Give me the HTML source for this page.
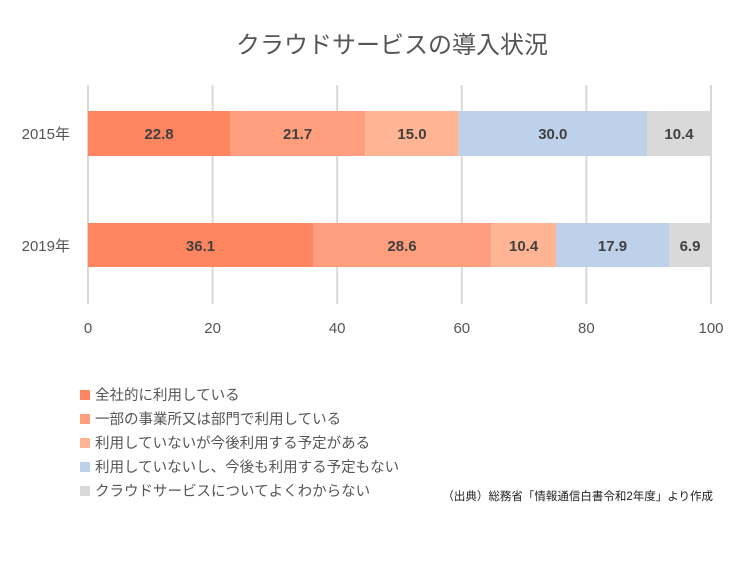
<!DOCTYPE html>
<html><head><meta charset="utf-8"><style>
body{margin:0;background:#fff;}
svg text{font-family:"Liberation Sans","Noto Sans CJK JP",sans-serif;}
</style></head><body>
<svg width="750" height="556" xmlns="http://www.w3.org/2000/svg">
<text x="392" y="53" font-size="24" fill="#555" text-anchor="middle">クラウドサービスの導入状況</text>
<g stroke="#d9d9d9" stroke-width="2">
<line x1="88" y1="85" x2="88" y2="304"/><line x1="212.6" y1="85" x2="212.6" y2="304"/>
<line x1="337.2" y1="85" x2="337.2" y2="304"/><line x1="461.8" y1="85" x2="461.8" y2="304"/>
<line x1="586.4" y1="85" x2="586.4" y2="304"/><line x1="711" y1="85" x2="711" y2="304"/>
</g>
<g font-size="15" fill="#555" text-anchor="middle">
<text x="88" y="333">0</text><text x="212.6" y="333">20</text><text x="337.2" y="333">40</text>
<text x="461.8" y="333">60</text><text x="586.4" y="333">80</text><text x="711" y="333">100</text>
</g>
<g font-size="15" fill="#555" text-anchor="end">
<text x="70" y="139">2015年</text><text x="70" y="251">2019年</text>
</g>
<g>
<rect x="88" y="111" width="142" height="45" fill="#FF8560"/>
<rect x="230" y="111" width="135.2" height="45" fill="#FF9E7C"/>
<rect x="365.2" y="111" width="93.5" height="45" fill="#FFB593"/>
<rect x="458.7" y="111" width="188.3" height="45" fill="#BDD1EA"/>
<rect x="647" y="111" width="64" height="45" fill="#D9D9D9"/>
<rect x="88" y="223" width="225" height="44" fill="#FF8560"/>
<rect x="313" y="223" width="178.2" height="44" fill="#FF9E7C"/>
<rect x="491.2" y="223" width="64.8" height="44" fill="#FFB593"/>
<rect x="556" y="223" width="113" height="44" fill="#BDD1EA"/>
<rect x="669" y="223" width="42" height="44" fill="#D9D9D9"/>
</g>
<g font-size="15" font-weight="bold" fill="#404040" text-anchor="middle">
<text x="159" y="139">22.8</text><text x="297.6" y="139">21.7</text><text x="412" y="139">15.0</text>
<text x="552.8" y="139">30.0</text><text x="679" y="139">10.4</text>
<text x="200.5" y="251">36.1</text><text x="402" y="251">28.6</text><text x="523.6" y="251">10.4</text>
<text x="612.5" y="251">17.9</text><text x="690" y="251">6.9</text>
</g>
<g font-size="14.5" fill="#555">
<rect x="80" y="390" width="10" height="10" fill="#FF8560"/><text x="95" y="400">全社的に利用している</text>
<rect x="80" y="414" width="10" height="10" fill="#FF9E7C"/><text x="95" y="424">一部の事業所又は部門で利用している</text>
<rect x="80" y="438" width="10" height="10" fill="#FFB593"/><text x="95" y="448">利用していないが今後利用する予定がある</text>
<rect x="80" y="462" width="10" height="10" fill="#BDD1EA"/><text x="95" y="472">利用していないし、今後も利用する予定もない</text>
<rect x="80" y="486" width="10" height="10" fill="#D9D9D9"/><text x="95" y="496">クラウドサービスについてよくわからない</text>
</g>
<text x="713" y="500" font-size="11.5" fill="#222" text-anchor="end">（出典）総務省「情報通信白書令和2年度」より作成</text>
</svg>
</body></html>
